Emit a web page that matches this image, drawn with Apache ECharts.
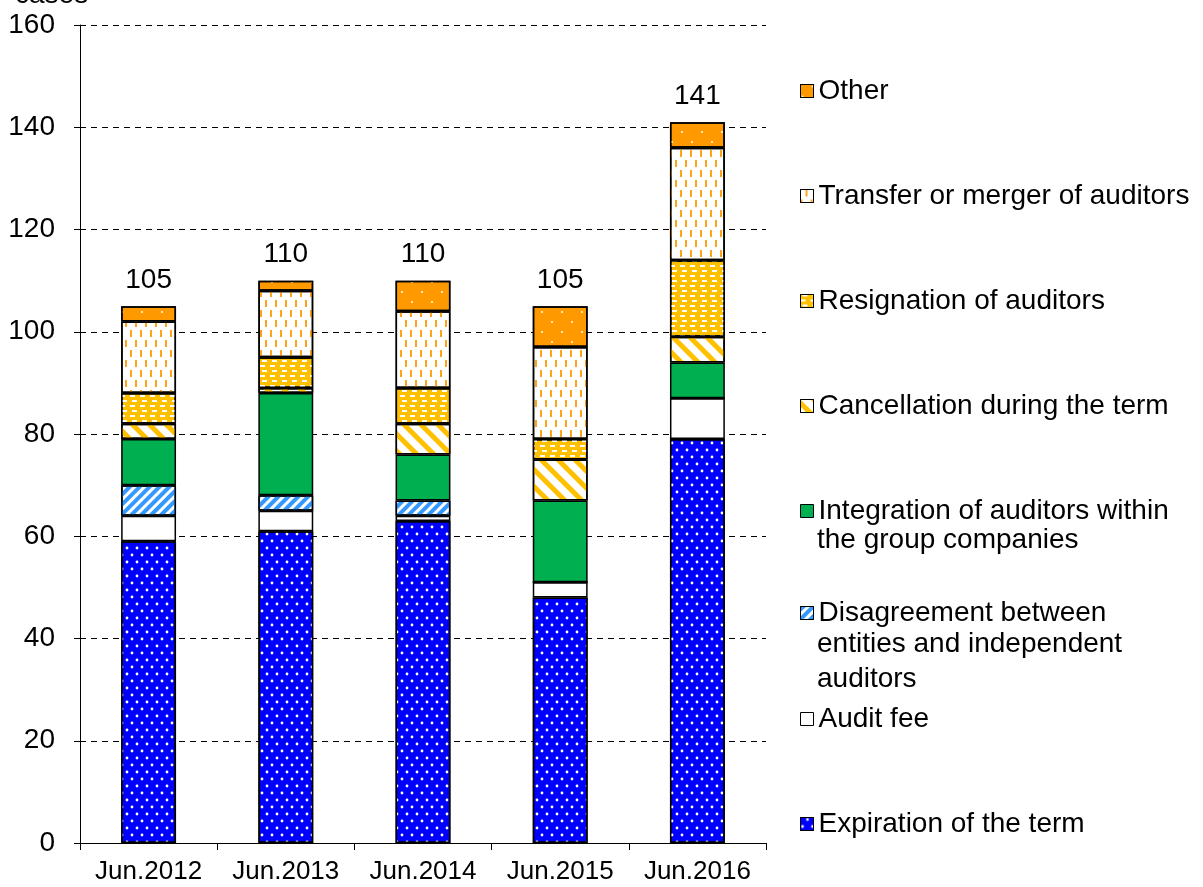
<!DOCTYPE html>
<html>
<head>
<meta charset="utf-8">
<script src="https://cdn.jsdelivr.net/npm/echarts@6/dist/echarts.min.js"></script>
<style>
html,body{margin:0;padding:0;background:#fff;}
.chart{width:1203px;height:887px;}
</style>
</head>
<body>
<div class="chart"></div>
<script>
var chart = echarts.init(document.querySelector(".chart"));

var years = ['Jun.2012', 'Jun.2013', 'Jun.2014', 'Jun.2015', 'Jun.2016'];
var yTicks = [0, 20, 40, 60, 80, 100, 120, 140, 160];
// stacked from bottom to top
var expiration = [59, 61, 63, 48, 79];
var auditFee = [5, 4, 1, 3, 8];
var disagreement = [6, 3, 3, 0, 0];
var integration = [9, 20, 9, 16, 7];
var cancellation = [3, 1, 6, 8, 5];
var resignation = [6, 6, 7, 4, 15];
var transfer = [14, 13, 15, 18, 22];
var other = [3, 2, 6, 8, 5];

var totals = years.map(function (y, i) {
    return expiration[i] + auditFee[i] + disagreement[i] + integration[i] +
        cancellation[i] + resignation[i] + transfer[i] + other[i];
});

var FONT = 'Liberation Sans, Arial, sans-serif';

function bar(name, data, color, decal) {
    var s = {
        name: name,
        type: 'bar',
        stack: 'all',
        barWidth: '40%',
        data: data,
        itemStyle: {
            color: color,
            borderColor: '#000',
            borderWidth: 1.5
        }
    };
    if (decal) s.itemStyle.decal = decal;
    return s;
}

var series = [
    bar('Expiration of the term', expiration, '#0000ff', {
        symbol: 'circle', color: '#ffffff', symbolSize: 0.7,
        dashArrayX: [[4, 6], [0, 5, 4, 1]], dashArrayY: [4, 3]
    }),
    bar('Audit fee', auditFee, '#ffffff'),
    bar('Disagreement between', disagreement, '#ffffff', {
        symbol: 'rect', color: '#3399ff', symbolSize: 1,
        dashArrayX: [1, 0], dashArrayY: [4, 3], rotation: -Math.PI / 4
    }),
    bar('Integration of auditors within', integration, '#00b050'),
    bar('Cancellation during the term', cancellation, '#ffffff', {
        symbol: 'rect', color: '#ffc000', symbolSize: 1,
        dashArrayX: [1, 0], dashArrayY: [5, 7], rotation: Math.PI / 4
    }),
    bar('Resignation of auditors', resignation, '#ffc000', {
        symbol: 'rect', color: '#ffffff', symbolSize: 1,
        dashArrayX: [[5, 5], [0, 2, 5, 3]], dashArrayY: [2, 3]
    }),
    bar('Transfer or merger of auditors', transfer, '#ffffff', {
        symbol: 'rect', color: '#ffa31a', symbolSize: 1,
        dashArrayX: [[2, 8], [0, 5, 2, 3]], dashArrayY: [7, 3]
    }),
    bar('Other', other, '#ff9900', {
        symbol: 'circle', color: '#ffffff', symbolSize: 0.5,
        dashArrayX: [[4, 16], [0, 10, 4, 6]], dashArrayY: [4, 6]
    })
];
series[7].label = {
    show: true,
    position: 'top',
    distance: 12,
    color: '#000',
    fontFamily: FONT,
    fontSize: 28,
    formatter: function (p) { return totals[p.dataIndex]; }
};

var legendNames = ['Other', 'Transfer or merger of auditors', 'Resignation of auditors',
    'Cancellation during the term', 'Integration of auditors within',
    'Disagreement between', 'Audit fee', 'Expiration of the term'];
var legendCenters = [89, 194, 299, 404, 509, 611, 717, 822];

var legends = legendNames.map(function (n, i) {
    return {
        data: [n],
        left: 795,
        top: legendCenters[i] - 17,
        icon: 'rect',
        itemWidth: 13,
        itemHeight: 13,
        itemGap: 0,
        selectedMode: false,
        itemStyle: { borderColor: '#000', borderWidth: 1 },
        textStyle: { fontFamily: FONT, fontSize: 28, color: '#000', padding: [0, 0, 0, 0] }
    };
});

var option = {
    animation: false,
    backgroundColor: '#fff',
    grid: { left: 80, right: 437, top: 25, bottom: 44 },
    legend: legends,
    xAxis: {
        type: 'category',
        data: years,
        axisLine: { lineStyle: { color: '#000', width: 1 } },
        axisTick: { show: true, interval: 0, length: 7, lineStyle: { color: '#000' } },
        axisLabel: { interval: 0, hideOverlap: false, color: '#000', fontFamily: FONT, fontSize: 26, margin: 16 }
    },
    yAxis: {
        type: 'value',
        min: yTicks[0],
        max: yTicks[yTicks.length - 1],
        interval: 20,
        axisLine: { show: true, lineStyle: { color: '#000', width: 1 } },
        axisTick: { show: true, length: 6, lineStyle: { color: '#000' } },
        axisLabel: { color: '#000', fontFamily: FONT, fontSize: 28, margin: 25 },
        splitLine: { lineStyle: { color: '#000', type: [6, 5], width: 1 } }
    },
    graphic: [
        { type: 'text', left: 15, top: -19, style: { text: 'cases', font: '28px ' + FONT, fill: '#000' } },
        { type: 'text', left: 817, top: legendCenters[4] + 32 - 15, style: { text: 'the group companies', font: '28px ' + FONT, fill: '#000' } },
        { type: 'text', left: 817, top: legendCenters[5] + 34 - 15, style: { text: 'entities and independent', font: '28px ' + FONT, fill: '#000' } },
        { type: 'text', left: 817, top: legendCenters[5] + 69 - 15, style: { text: 'auditors', font: '28px ' + FONT, fill: '#000' } }
    ],
    series: series
};
chart.setOption(option);
</script>
</body>
</html>
